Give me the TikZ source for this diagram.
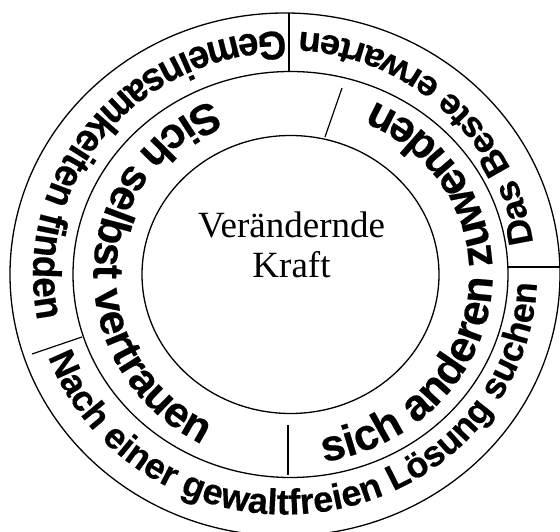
\documentclass[tikz,border=0pt]{standalone}
\usepackage{fontspec}
\setmainfont{Liberation Serif}
\newfontfamily\ringfont{Liberation Sans}
\usetikzlibrary{decorations.text}
\begin{document}
\begin{tikzpicture}[x=1pt,y=1pt,
  ringline/.style={draw=black, line width=1.3pt},
  sepline/.style={draw=black, line width=1.2pt},
  ringtext/.style={decorate, decoration={text along path, text align=center, text={#1}}}
]
\useasboundingbox (0,0) rectangle (560,531);
\fill[white] (0,0) rectangle (560,531);
\begin{scope}
\clip (0,0) rectangle (560,531);
\coordinate (C) at (290.5,256.5);
\coordinate (CO) at (285,256.5);
% rings
\draw[ringline] (C) ellipse [x radius=148.5, y radius=139];
\draw[ringline] (C) ellipse [x radius=217.5, y radius=203];
\draw[ringline] (CO) ellipse [x radius=275, y radius=261.5];
% separators outer ring
\coordinate (sTopA) at (289,459); \coordinate (sTopB) at (289,518);
\coordinate (sLeftA) at (82,194); \coordinate (sLeftB) at (32,177);
\coordinate (sRightA) at (508,264); \coordinate (sRightB) at (560,264);
\draw[sepline] (sTopA) -- (sTopB);
\draw[sepline] (sLeftA) -- (sLeftB);
\draw[sepline] (sRightA) -- (sRightB);
% separators middle ring
\coordinate (mUpA) at (325,394); \coordinate (mUpB) at (342,443);
\coordinate (mBotA) at (288,106); \coordinate (mBotB) at (288,56);
\draw[sepline] (mUpA) -- (mUpB);
\draw[sepline] (mBotA) -- (mBotB);
% outer ring texts
\path[ringtext={|\ringfont\bfseries\addfontfeature{FakeStretch=0.92,FakeBold=0.4}\fontsize{40}{40}\selectfont|Gemeinsamkeiten finden}]
  (CO) ++(84:252 and 243) arc[start angle=84, end angle=197, x radius=252, y radius=243];
\path[ringtext={|\ringfont\bfseries\addfontfeature{FakeStretch=1.05,FakeBold=0.4}\fontsize{35}{35}\selectfont|Das Beste erwarten}]
  (CO) ++(2:250 and 243) arc[start angle=2, end angle=92, x radius=250, y radius=243];
\path[ringtext={|\ringfont\bfseries\addfontfeature{FakeBold=0.4}\fontsize{36}{36}\selectfont|Nach einer gewaltfreien Lösung suchen}]
  (CO) ++(197:252 and 240) arc[start angle=197, end angle=361, x radius=252, y radius=240];
% middle ring texts
\path[ringtext={|\ringfont\bfseries\addfontfeature{FakeBold=0.4}\fontsize{43}{43}\selectfont|Sich selbst vertrauen}]
  (C) ++(81:197 and 190) arc[start angle=81, end angle=276, x radius=197, y radius=190];
\path[ringtext={|\ringfont\bfseries\addfontfeature{FakeBold=0.4}\fontsize{44}{44}\selectfont|sich anderen zuwenden}]
  (C) ++(270:202 and 190) arc[start angle=270, end angle=435, x radius=202, y radius=190];
\end{scope}
% centre text
\node[align=center, font=\fontsize{37}{40}\selectfont] (title) at (291.5,286) {Verändernde\\Kraft};
\end{tikzpicture}
\end{document}
